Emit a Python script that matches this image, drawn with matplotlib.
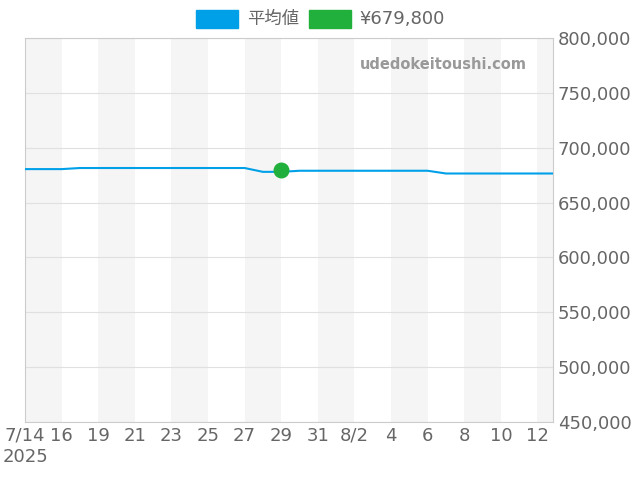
import matplotlib
matplotlib.use('Agg')
import matplotlib.pyplot as plt
import numpy as np

plt.rcParams['font.family'] = ['DejaVu Sans', 'Noto Sans CJK JP']

# days since 7/14
days = list(range(0, 30))
avg_price = [680500, 680500, 680500, 681500, 681500, 681500, 681500, 681500, 681500, 681500,
             681500, 681500, 681500, 678000, 678000, 679000, 679000, 679000, 679000, 679000,
             679000, 679000, 679000, 676500, 676500, 676500, 676500, 676500, 676500, 676500]
current_day = 14
current_price = 679800
tick_days = list(range(0, 30, 2))
tick_labels = ['7/14\n2025', '16', '19', '21', '23', '25', '27', '29', '31', '8/2',
               '4', '6', '8', '10', '12']

fig = plt.figure(figsize=(6.4, 4.8), dpi=100)
ax = fig.add_axes([25/640, 1-422/480, 528/640, 384/480])

for d in range(0, 30, 4):
    ax.axvspan(d, d + 2, color='#f5f5f5', zorder=0, lw=0)

ax.plot(days, avg_price, color='#00a0e9', lw=1.5, zorder=3)
ax.scatter([current_day], [current_price], color='#22b03c', s=110, zorder=4)

ax.set_xlim(0, 28.85)
ax.set_ylim(450000, 800000)
ax.set_yticks(range(450000, 800001, 50000))
ax.yaxis.tick_right()
ax.set_yticklabels([f'{v:,}' for v in range(450000, 800001, 50000)])
ax.set_xticks(tick_days)
ax.set_xticklabels(tick_labels)
ax.tick_params(labelsize=13, colors='#666666', length=0)
ax.grid(axis='y', color='#e0e0e0', lw=0.8)
for s in ax.spines.values():
    s.set_color('#cccccc')

ax.text(0.95, 0.95, 'udedokeitoushi.com', transform=ax.transAxes, ha='right', va='top',
        fontsize=10.5, color='#999999', fontweight='bold')

fig.patches.append(plt.Rectangle((196/640, 1-28/480), 42/640, 18/480, color='#00a0e9', transform=fig.transFigure))
fig.text(247/640, 1-19/480, '平均値', fontsize=12.5, color='#666666', va='center',
         family=['Noto Sans CJK JP', 'DejaVu Sans'])
fig.patches.append(plt.Rectangle((309/640, 1-28/480), 42/640, 18/480, color='#22b03c', transform=fig.transFigure))
fig.text(359/640, 1-19/480, '¥679,800', fontsize=13, color='#666666', va='center')

fig.savefig('out.png')
